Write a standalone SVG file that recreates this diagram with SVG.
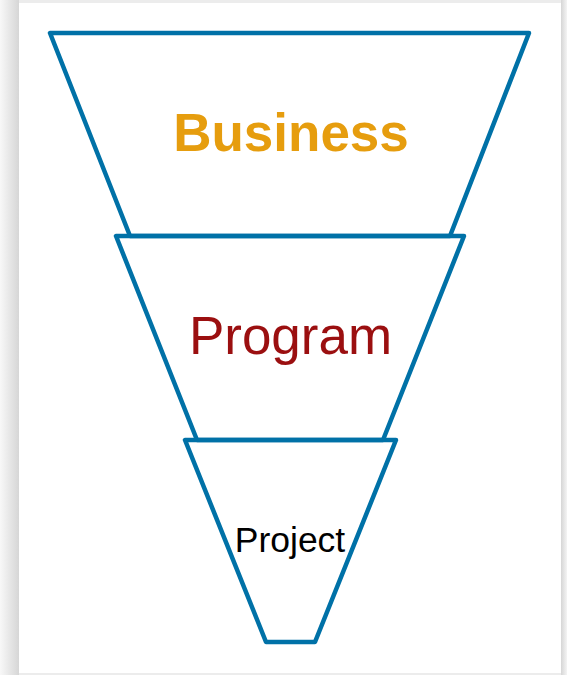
<svg xmlns="http://www.w3.org/2000/svg" width="567" height="675" viewBox="0 0 567 675">
<defs>
<linearGradient id="shL" x1="0" y1="0" x2="1" y2="0">
<stop offset="0" stop-color="#f8f8f8"/>
<stop offset="1" stop-color="#d6d6d6"/>
</linearGradient>
<linearGradient id="shR" x1="0" y1="0" x2="1" y2="0">
<stop offset="0" stop-color="#d6d6d6"/>
<stop offset="1" stop-color="#f4f4f4"/>
</linearGradient>
<style>
.tier{fill:none;stroke:#0071A7;stroke-width:4.5;stroke-linejoin:round}
.lbl{font-family:"Liberation Sans",Arial,sans-serif;text-anchor:middle}
</style>
</defs>
<rect x="0" y="0" width="567" height="675" fill="#ececec"/>
<rect x="0" y="0" width="19" height="675" fill="url(#shL)"/>
<rect x="561" y="0" width="6" height="675" fill="url(#shR)"/>
<rect x="19" y="3" width="542" height="670" fill="#ffffff"/>
<g id="business">
<polygon class="tier" points="50,33 529,33 450,236 130,236"/>
<text class="lbl" x="291" y="151" font-size="53" font-weight="bold" fill="#E69D0E">Business</text>
</g>
<g id="program">
<polygon class="tier" points="116,236 464,236 383,440 197,440"/>
<text class="lbl" x="290.5" y="354" font-size="53" fill="#9B0F10">Program</text>
</g>
<g id="project">
<polygon class="tier" points="185,440 396,440 315,642 266,642"/>
<text class="lbl" x="290" y="552" font-size="35.5" fill="#000000">Project</text>
</g>
<g id="connectors"/>
</svg>
